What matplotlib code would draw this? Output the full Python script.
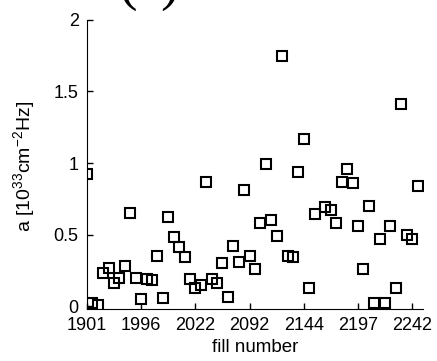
import numpy as np
import matplotlib.pyplot as plt

plt.rcParams['font.family'] = ['Liberation Sans', 'DejaVu Sans']
plt.rcParams['mathtext.default'] = 'regular'

# fill numbers shown as tick labels (every 10th fill)
tick_labels = ['1901', '1996', '2022', '2092', '2144', '2197', '2242']

# a [1e33 cm^-2 Hz] per fill, in fill order (nan = missing)
a_vals = [0.92, 0.023, 0.007, 0.23, 0.27, 0.16, 0.20, 0.28, 0.65, 0.20,
          0.047, 0.19, 0.18, 0.35, 0.058, 0.62, 0.48, 0.41, 0.34, 0.19,
          0.13, 0.145, 0.87, 0.19, 0.16, 0.30, 0.065, 0.42, 0.31, 0.81,
          0.35, 0.26, 0.58, 0.99, 0.60, 0.49, 1.75, 0.35, 0.34, 0.94,
          1.17, 0.13, 0.645, np.nan, 0.69, 0.67, 0.58, 0.87, 0.955, 0.86,
          0.56, 0.26, 0.70, 0.023, 0.47, 0.02, 0.56, 0.13, 1.41, 0.50,
          0.47, 0.84]

idx = np.arange(len(a_vals))

fig = plt.figure(figsize=(4.37, 3.61), dpi=100)
ax = fig.add_axes([0.199, 0.144, 0.769, 0.801])

ax.plot(idx, a_vals, 's', ms=7.2, mfc='none', mec='black', mew=1.5)

ax.set_xlim(0, 62)
ax.set_ylim(-0.02, 2)
ax.set_xticks(np.arange(0, 61, 10))
ax.set_xticklabels(tick_labels)
ax.set_yticks([0, 0.5, 1, 1.5, 2])
ax.set_yticklabels(['0', '0.5', '1', '1.5', '2'])

for s in ['top', 'right']:
    ax.spines[s].set_visible(False)
ax.tick_params(direction='in', length=4, width=1, labelsize=13, pad=6)

ax.set_xlabel('fill number', fontsize=13.5, labelpad=3)
ax.set_ylabel('a [10$^{33}$cm$^{-2}$Hz]', fontsize=14)
ax.yaxis.set_label_coords(-0.15, 0.495)

# remains of the panel title, cut off at the top edge
fig.text(0.341, 1.004, '(c)', fontsize=40, family='Liberation Serif',
         ha='center', va='baseline')

fig.savefig('out.png', dpi=100)
